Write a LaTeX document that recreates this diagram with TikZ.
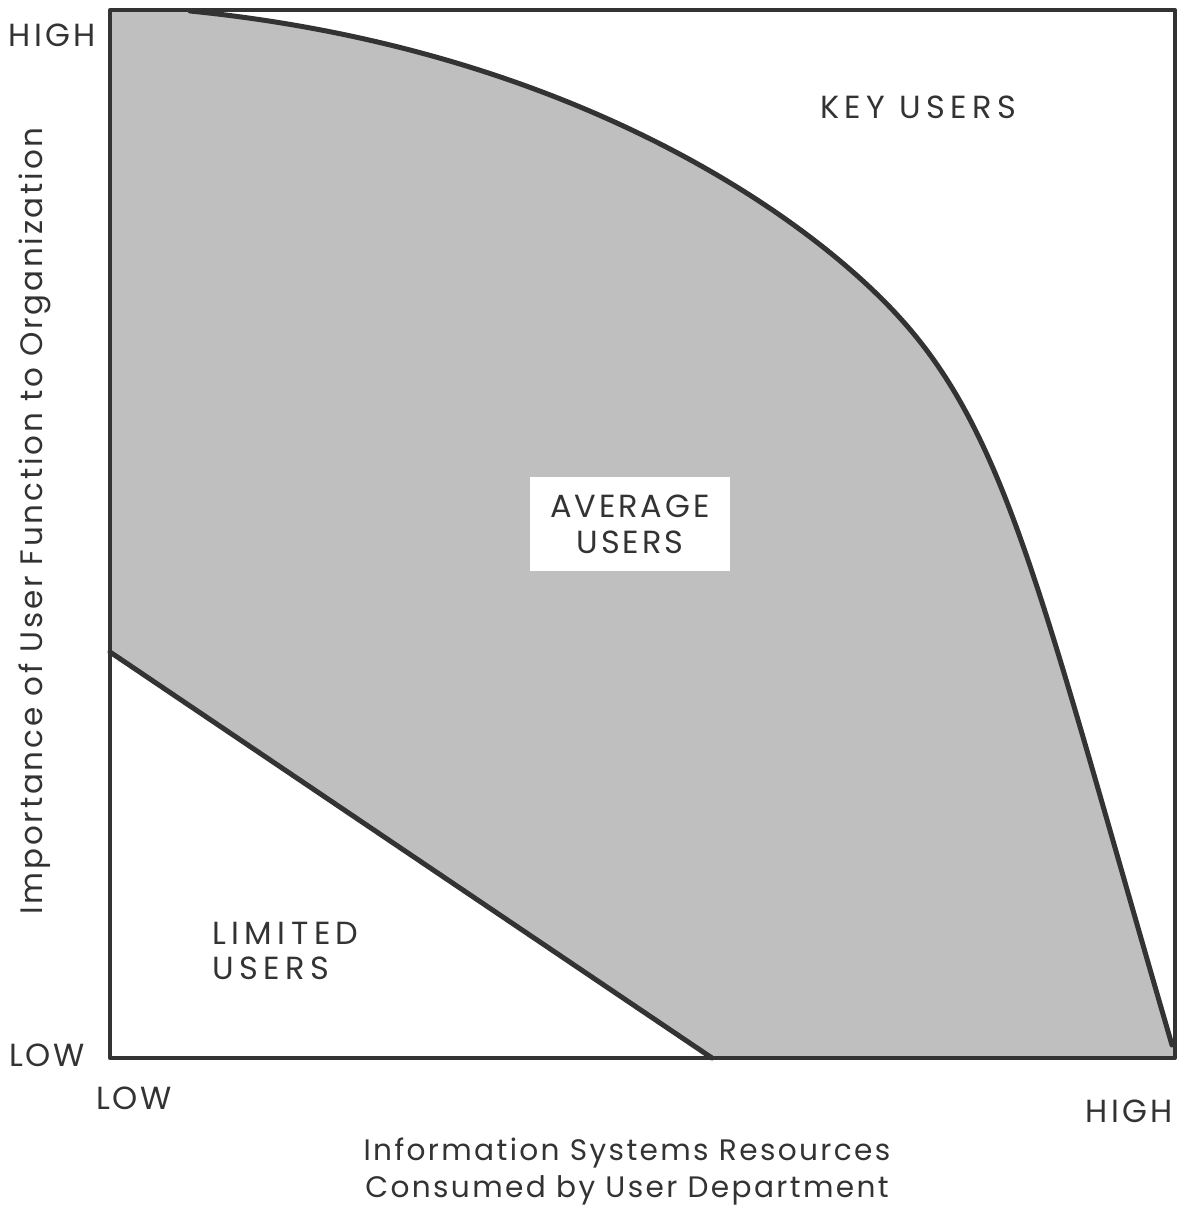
\documentclass[tikz,border=0pt]{standalone}
\usepackage{fontspec}
\setmainfont{Poppins}[LetterSpace=8]
\begin{document}
\begin{tikzpicture}[x=0.5pt,y=-0.5pt,
  frame/.style={draw=black!80,line width=2pt,line join=round},
  bound/.style={draw=black!80,line width=2.5pt,line cap=round},
  shade/.style={fill=black!25},
  lbl/.style={font=\fontsize{16}{18}\selectfont,text=black!80,inner sep=0pt},
  axlbl/.style={text=black!80,inner sep=0pt,align=center}]
\useasboundingbox (0,0) rectangle (1180,1210);
\coordinate (tl) at (110,10);
\coordinate (bl) at (110,1058);
\coordinate (br) at (1175,1058);
\coordinate (c0) at (190,11);
\coordinate (cm) at (900,318);
\coordinate (c1) at (1172,1045);
\coordinate (d0) at (110,652);
\coordinate (d1) at (712,1058);
% shaded band
\fill[shade] (tl) -- (c0) .. controls (569,49) and (806,214) .. (cm)
  .. controls (1008,437) and (1042,600) .. (c1) -- (br) -- (d1) -- (d0) -- cycle;
% boundaries
\draw[bound] (c0) .. controls (569,49) and (806,214) .. (cm)
  .. controls (1008,437) and (1042,600) .. (c1);
\draw[bound] (d0) -- (d1);
\draw[frame] (tl) rectangle (br);
% region labels
\node[lbl,font=\fontsize{16}{18}\selectfont\addfontfeature{LetterSpace=17}] (key) at (918,107) {KEY USERS};
\node[lbl,fill=white,align=center,minimum width=100pt,minimum height=47pt,font=\fontsize{16}{18}\selectfont\addfontfeature{LetterSpace=9}] (avg) at (630,524) {AVERAGE\\USERS};
\node[lbl,align=left,anchor=west,font=\fontsize{16}{17.5}\selectfont\addfontfeature{LetterSpace=17}] (lim) at (212,951) {LIMITED\\USERS};
% axis tick labels
\node[lbl,font=\fontsize{16}{18}\selectfont\addfontfeature{LetterSpace=10}] (yhigh) at (52,35) {HIGH};
\node[lbl] (ylow) at (47,1055) {LOW};
\node[lbl] (xlow) at (134,1098) {LOW};
\node[lbl,font=\fontsize{16}{18}\selectfont\addfontfeature{LetterSpace=10}] (xhigh) at (1129,1111) {HIGH};
% axis titles
\node[axlbl,rotate=90,font=\fontsize{15.5}{19}\selectfont\addfontfeature{LetterSpace=9}] (ytitle) at (35,521) {Importance of User Function to Organization};
\node[axlbl,font=\fontsize{14.8}{18.5}\selectfont] (xtitle) at (627,1172) {Information Systems Resources\\Consumed by User Department};
\end{tikzpicture}
\end{document}
